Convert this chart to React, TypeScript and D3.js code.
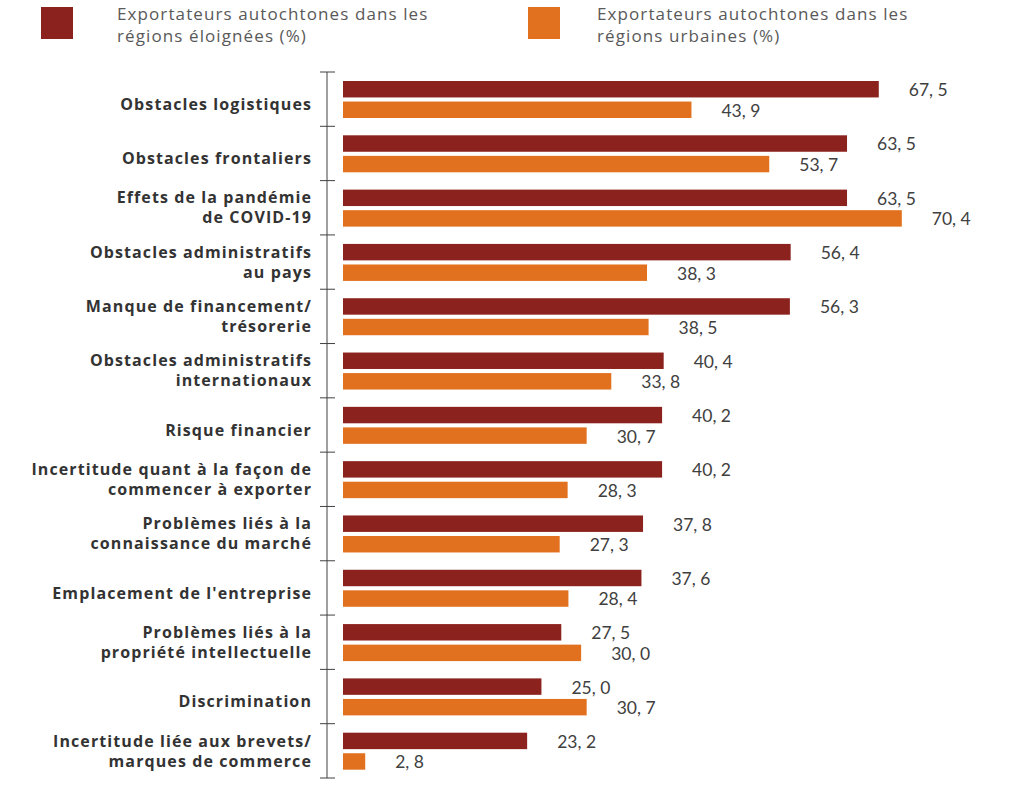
import React from "react";
import * as d3 from "d3";

const categories: string[][] = [
  ["Obstacles logistiques"],
  ["Obstacles frontaliers"],
  ["Effets de la pandémie", "de COVID-19"],
  ["Obstacles administratifs", "au pays"],
  ["Manque de financement/", "trésorerie"],
  ["Obstacles administratifs", "internationaux"],
  ["Risque financier"],
  ["Incertitude quant à la façon de", "commencer à exporter"],
  ["Problèmes liés à la", "connaissance du marché"],
  ["Emplacement de l'entreprise"],
  ["Problèmes liés à la", "propriété intellectuelle"],
  ["Discrimination"],
  ["Incertitude liée aux brevets/", "marques de commerce"],
];
const remote: number[] = [67.5, 63.5, 63.5, 56.4, 56.3, 40.4, 40.2, 40.2, 37.8, 37.6, 27.5, 25.0, 23.2];
const urban: number[] = [43.9, 53.7, 70.4, 38.3, 38.5, 33.8, 30.7, 28.3, 27.3, 28.4, 30.0, 30.7, 2.8];
const seriesNames: string[][] = [
  ["Exportateurs autochtones dans les", "régions éloignées (%)"],
  ["Exportateurs autochtones dans les", "régions urbaines (%)"],
];
const colors = ["#8B221E", "#E2711F"];

const fmt = (v: number) => v.toFixed(1).replace(".", ", ");

export default function App() {
  const W = 1026, H = 807;
  const keys = categories.map((c) => c.join(" "));
  const y = d3.scaleBand<string>().domain(keys).range([72, 778]).paddingInner(0);
  const x = d3.scaleLinear().domain([0, 80]).range([343, 978]);
  const sub = d3.scaleBand<string>().domain(["r", "u"]).range([9, 46]).paddingInner(0.2);
  const labelFont = "'Open Sans', sans-serif";
  const valueFont = "'Lato', 'Open Sans', sans-serif";
  const axisX = 327;
  const ticks = d3.range(categories.length + 1).map((i) => 72 + i * y.step());
  const legendSwatchX = [41, 528];
  const legendTextX = [117, 597];

  return (
    <svg width={W} height={H} style={{ position: "absolute", left: 0, top: 0 }}>
      <rect width={W} height={H} fill="#fff" />
      {seriesNames.map((s, i) => (
        <g key={i}>
          <rect x={legendSwatchX[i]} y={7} width={32} height={32} fill={colors[i]} />
          {s.map((line, j) => (
            <text
              key={j}
              x={legendTextX[i]}
              y={20 + j * 21.5}
              fontFamily={labelFont}
              fontSize={17}
              letterSpacing={1.1}
              fill="#595959"
            >
              {line}
            </text>
          ))}
        </g>
      ))}
      <line x1={axisX} x2={axisX} y1={72} y2={778} stroke="#404040" strokeWidth={1} />
      {ticks.map((t, i) => (
        <line key={i} x1={axisX - 7} x2={axisX + 8} y1={t} y2={t} stroke="#404040" strokeWidth={1} />
      ))}
      {categories.map((cat, i) => {
        const k = keys[i];
        const y0 = y(k)!;
        const c = y0 + y.bandwidth() / 2;
        const baselines = cat.length === 1 ? [c + 10.7] : [c - 4.3, c + 15.7];
        return (
          <g key={k}>
            {cat.map((line, j) => (
              <text
                key={j}
                x={312}
                y={baselines[j]}
                textAnchor="end"
                fontFamily={labelFont}
                fontWeight="bold"
                fontSize={16}
                letterSpacing={1.1}
                fill="#333"
              >
                {line}
              </text>
            ))}
            {[remote[i], urban[i]].map((v, s) => {
              const by = y0 + sub(s === 0 ? "r" : "u")!;
              return (
                <g key={s}>
                  <rect x={x(0)} y={by} width={x(v) - x(0)} height={sub.bandwidth()} fill={colors[s]} />
                  <text
                    x={x(v) + 30}
                    y={by + sub.bandwidth() / 2 + 2.5}
                    dominantBaseline="middle"
                    fontFamily={valueFont}
                    fontSize={17.5}
                    fill="#404040"
                  >
                    {fmt(v)}
                  </text>
                </g>
              );
            })}
          </g>
        );
      })}
    </svg>
  );
}
